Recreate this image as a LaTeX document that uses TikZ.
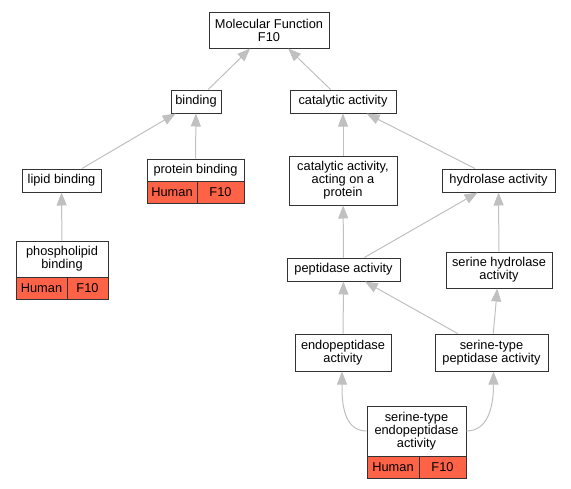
\documentclass[tikz,border=0pt]{standalone}
\usepackage{fontspec}
\setmainfont{Liberation Sans}
\usetikzlibrary{arrows.meta}
\definecolor{tomato}{RGB}{255,99,71}
\definecolor{edgegray}{RGB}{192,192,192}
\definecolor{boxline}{RGB}{51,51,51}
\begin{document}
\begin{tikzpicture}[x=1pt,y=-1pt,
  box/.style={draw=boxline, line width=1pt, fill=white, rectangle, inner sep=0pt, align=center, font=\fontsize{12.8}{13}\selectfont, text=black},
  hit/.style={box, fill=tomato},
  edge/.style={draw=edgegray, line width=1pt, -{Triangle[length=13pt,width=10pt]}}]
\useasboundingbox (0,0) rectangle (571,488);
% nodes
\node[box, minimum width=120pt, minimum height=36pt] (mf) at (269,30) {Molecular Function\\F10};
\node[box, minimum width=50pt, minimum height=23pt] (bind) at (196,101.5) {binding};
\node[box, minimum width=106pt, minimum height=23pt] (cat) at (343,101.5) {catalytic activity};
\node[box, minimum width=79pt, minimum height=23pt] (lipid) at (61.5,180.5) {lipid binding};
\node[box, minimum width=97pt, minimum height=22pt] (prot) at (195.5,170) {protein binding};
\node[hit, minimum width=50pt, minimum height=22pt] (protH) at (172,192) {Human};
\node[hit, minimum width=47pt, minimum height=22pt] (protF) at (220.5,192) {F10};
\node[box, minimum width=108pt, minimum height=49pt] (catp) at (343,180.5) {catalytic activity,\\acting on a\\protein};
\node[box, minimum width=113pt, minimum height=23pt] (hyd) at (498.5,180.5) {hydrolase activity};
\node[box, minimum width=92pt, minimum height=36pt] (phos) at (62,259) {phospholipid\\binding};
\node[hit, minimum width=51pt, minimum height=22pt] (phosH) at (41.5,288) {Human};
\node[hit, minimum width=41pt, minimum height=22pt] (phosF) at (87.5,288) {F10};
\node[box, minimum width=113pt, minimum height=23pt] (pep) at (343.5,269.5) {peptidase activity};
\node[box, minimum width=106pt, minimum height=36pt] (shyd) at (499,270) {serine hydrolase\\activity};
\node[box, minimum width=96pt, minimum height=37pt] (endo) at (343,352.5) {endopeptidase\\activity};
\node[box, minimum width=113pt, minimum height=37pt] (stp) at (491.5,352.5) {serine-type\\peptidase activity};
\node[box, minimum width=99pt, minimum height=50pt] (ste) at (416.5,431) {serine-type\\endopeptidase\\activity};
\node[hit, minimum width=52pt, minimum height=22pt] (steH) at (393,467) {Human};
\node[hit, minimum width=47pt, minimum height=22pt] (steF) at (442.5,467) {F10};
% edges
\draw[edge] (bind) -- (mf);
\draw[edge] (cat) -- (mf);
\draw[edge] (lipid) -- (bind);
\draw[edge] (prot) -- (bind);
\draw[edge] (phos) -- (lipid);
\draw[edge] (catp) -- (cat);
\draw[edge] (hyd) -- (cat);
\draw[edge] (pep) -- (catp);
\draw[edge] (pep) -- (hyd);
\draw[edge] (shyd) -- (hyd);
\draw[edge] (endo) -- (pep);
\draw[edge] (stp) -- (pep);
\draw[edge] (stp) -- (shyd);
\draw[edge] (ste.west) to[out=180,in=-90] ([xshift=-1pt]endo.south);
\draw[edge] (ste.east) to[out=0,in=-90] ([xshift=2pt]stp.south);
\end{tikzpicture}
\end{document}
